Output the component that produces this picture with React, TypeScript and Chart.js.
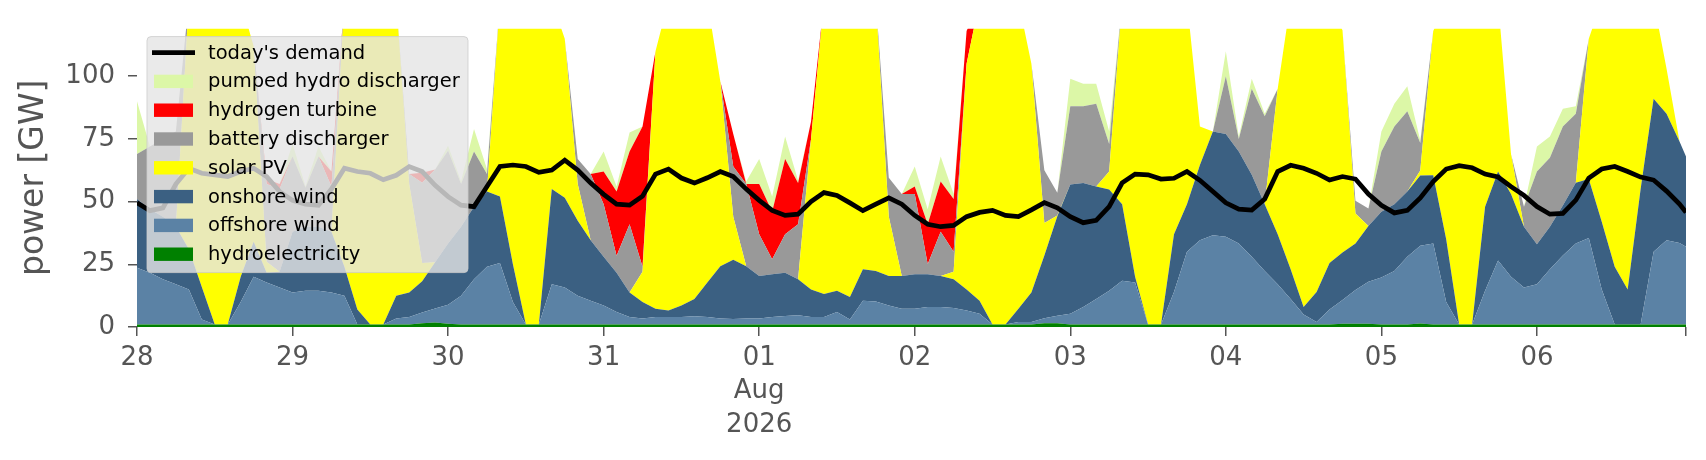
import React, { useEffect, useRef } from 'react'
import Chart from 'chart.js/auto'

// hours since 28 Jul 00:00, one reading every 2 h, last one at 23:00 on 6 Aug
const hours = Array.from({ length: 120 }, (_, i) => i * 2).concat(239)
const endHour = 239

const dayTickHours = [0, 24, 48, 72, 96, 120, 144, 168, 192, 216]
const dayTickLabels: (string | string[])[] = ['28', '29', '30', '31', ['01', 'Aug', '2026'], '02', '03', '04', '05', '06']
const yTicks = [0, 25, 50, 75, 100]

// GW (one row = one day)
const hydro = [
  1, 1, 1, 1, 1, 1, 1, 1, 1, 1, 1, 1,
  1, 1, 1, 1, 1, 1, 1, 1, 1, 1, 1.5, 1.8,
  1.3, 1, 1, 1, 1, 1, 1, 1, 1, 1, 1, 1,
  1, 1, 1, 1, 1, 1, 1, 1, 1, 1, 1, 1,
  1, 1, 1, 1, 1, 1, 1, 1, 1, 1, 1, 1,
  1, 1, 1, 1, 1, 1, 1, 1, 1, 1, 1.5, 1.5,
  1, 1, 1, 1, 1, 1, 1, 1, 1, 1, 1, 1,
  1, 1, 1, 1, 1, 1, 1, 1, 1, 1.3, 1.3, 1.3,
  1, 1, 1, 1.4, 1, 1, 1, 1, 1, 1, 1, 1,
  1, 1, 1, 1, 1, 1, 1, 1, 1, 1, 1, 1, 1,
]
const offshore = [
  22.6, 20.6, 18, 16, 14, 2, 0, 0, 9, 19, 16.7, 14.8,
  12.8, 13.5, 13.5, 12.8, 11.5, 0, 0, 0, 2.4, 3, 4.3, 5.6,
  7.6, 11.5, 18, 23, 24.5, 9, 0, 0, 16, 14.8, 11.5, 9.5,
  7.6, 5, 3, 2.4, 3, 3, 3, 3.3, 3, 2.4, 2.2, 2.4,
  2.4, 3, 3.4, 3.7, 3, 3, 5, 2, 9.5, 9.2, 7.6, 6.3,
  6.3, 7, 7, 6.6, 5.6, 4.3, 0, 0, 1, 1, 2, 3,
  4.3, 7, 10.2, 13.5, 17.4, 16.7, 0, 0, 13, 29, 33.6, 35.6,
  35, 32.3, 27, 21.3, 16, 10.2, 4, 1, 6, 9.5, 13.5, 16.7,
  18.7, 21.3, 27, 31, 32.3, 9, 0, 0, 13.5, 25.5, 19, 14.8,
  16, 22, 27.5, 32.3, 34.5, 14, 0, 0, 0, 29, 33.6, 32.5, 31,
]
const onshore = [
  27.4, 25.4, 25, 23, 16, 13, 0, 0, 10, 14, 3.9, 6.2,
  24.2, 25.5, 25.5, 24.2, 11.5, 6, 0, 0, 9.1, 9.8, 12.4, 18.4,
  24.4, 27.5, 29, 30, 26.5, 15, 0, 0, 38, 35.7, 29.9, 24.1,
  19.4, 15.6, 9.8, 6.6, 3.3, 2.6, 4.6, 6.9, 13.7, 20.8, 23.6, 20.8,
  16.9, 17, 17.2, 14.3, 11, 9.2, 8.5, 9, 12.5, 12.1, 11.7, 13,
  13.7, 13, 12.3, 11.4, 8.4, 5.2, 0, 0, 5.3, 11.8, 25, 39.7,
  51.5, 49.4, 44.8, 40.3, 30.6, 2.3, 0, 0, 23, 19, 30, 41.4,
  41, 36.7, 32.7, 26.7, 20, 11.8, 3, 12, 18.5, 18.9, 18.5, 22.3,
  26.3, 26.7, 26, 28, 27.2, 25, 0, 0, 33.5, 35.5, 33, 24.2,
  16, 17, 20, 24.2, 23.5, 27, 23, 14, 54, 61, 50.4, 40.5, 36,
]
const solar = [
  0, 0, 0, 0, 99, 114, 129, 129, 110, 78, 4.4, 0,
  0, 0, 0, 0, 106, 123, 129, 129, 117.5, 43.2, 7.3, 0,
  0, 0, 0, 0, 78, 105, 129, 129, 75, 63.5, 14.6, 0,
  0, 0, 0, 12, 102.7, 123.4, 121.4, 118.8, 112.3, 73.8, 17.2, 0,
  0, 0, 0, 0, 60, 116.8, 115.5, 118, 107, 107.7, 23.7, 0,
  0, 0, 0, 3, 90, 119.5, 129, 129, 122.7, 91.2, 13, 0.3,
  0, 0, 0, 7.2, 81, 110, 129, 129, 93, 81, 15.4, 0,
  0, 0, 0, 0, 58, 107, 122, 116, 104.5, 88.6, 12, 0,
  0, 0, 0, 2, 57.5, 95, 129, 129, 82, 68, 16, 0,
  0, 0, 0, 0, 56, 88, 106, 115, 75, 39, 18, 0, 0,
]
const battery = [
  18, 25, 31, 38, 0, 0, 0, 0, 0, 0, 31, 33,
  30, 15.5, 28, 18, 0, 0, 0, 0, 0, 4, 32, 37,
  37, 17, 22, 7, 0, 0, 0, 0, 0, 0, 10, 26.4,
  21, 6.8, 27.2, 2, 0, 0, 0, 0, 0, 0, 20, 32.8,
  16.7, 6, 15.4, 22, 0, 0, 0, 0, 0, 0, 15.5, 32.7,
  32, 4, 17.7, 8, 0, 0, 0, 0, 0, 0, 21, 9,
  31.2, 30.6, 33, 11, 0, 0, 0, 0, 0, 0, 0, 0,
  23, 5, 34.3, 35, 0, 0, 0, 0, 0, 0, 5, 7,
  24, 31, 32, 11, 0, 0, 0, 0, 0, 0, 0, 8,
  29, 27.5, 31.5, 27.5, 0, 0, 0, 0, 0, 0, 0, 0, 0,
]
const hydrogen = [
  0, 0, 0, 0, 0, 0, 0, 0, 0, 0, 2, 2,
  0, 0, 0, 6, 0, 0, 0, 0, 0, 0, 4, 0,
  0, 0, 0, 0, 0, 0, 0, 0, 0, 0, 0, 0,
  13, 25.6, 29, 56, 0, 0, 0, 0, 0, 0, 13, 0,
  20, 19, 30, 16.4, 7, 0, 0, 0, 0, 0, 0, 0,
  3, 16, 20, 21, 13, 0, 0, 0, 0, 0, 0, 0,
  0, 0, 0, 0, 0, 0, 0, 0, 0, 0, 0, 0,
  0, 0, 0, 0, 0, 0, 0, 0, 0, 0, 0, 0,
  0, 0, 0, 0, 0, 0, 0, 0, 0, 0, 0, 0,
  0, 0, 0, 0, 0, 0, 0, 0, 0, 0, 0, 0, 0,
]
const pumpedHydro = [
  21, 0, 0, 0, 0, 0, 0, 0, 0, 0, 0, 0,
  5, 0.5, 4, 0, 0, 0, 0, 0, 0, 0, 0, 0,
  2, 1, 9, 2, 0, 0, 0, 0, 0, 0, 0, 0,
  8, 2, 7.6, 0, 0, 0, 0, 0, 0, 0, 0, 1,
  10, 6, 9, 1, 0, 0, 0, 0, 0, 0, 0, 0,
  8, 6, 10, 2, 0, 0, 0, 0, 0, 0, 0, 0,
  11, 9, 8, 5, 0, 0, 0, 0, 0, 0, 0, 0,
  10, 1, 4, 1, 0, 0, 0, 0, 0, 0, 0, 0,
  8, 9, 10, 1, 0, 0, 0, 0, 0, 0, 0, 0,
  10, 8.5, 7, 3, 0, 0, 0, 0, 0, 0, 0, 0, 0,
]
const demand = [
  49.6, 46.4, 47.5, 57, 63.3, 61.3, 60.7, 60, 62, 63.3, 60, 54,
  50.5, 49, 48.5, 55, 63.3, 62, 61.3, 58.7, 60.5, 64, 62, 56.5,
  52, 48.6, 48, 56, 64, 64.6, 64, 61.7, 62.6, 66.5, 62.6, 57.4,
  52.9, 49, 48.6, 52.2, 61, 63, 59.4, 57.4, 59.5, 62, 60, 55,
  50.5, 46.5, 44.5, 45, 50, 53.6, 52.5, 49.5, 46.4, 49, 51.5, 49,
  44.5, 41, 40, 40.5, 44, 45.7, 46.5, 44.5, 44, 46.7, 49.6, 47.5,
  44, 41.6, 42.5, 48, 57.5, 61, 60.7, 59, 59.3, 62, 58.5, 54,
  49.5, 47, 46.6, 51, 62, 64.5, 63.3, 61.3, 58.6, 60, 59, 53,
  48.5, 45.5, 46.5, 51.5, 58, 63, 64.3, 63.5, 61, 59.8, 56, 52.5,
  48, 45, 45.3, 50.6, 59.4, 63, 64, 62, 59.8, 58.6, 54.2, 49, 45.7,
]

// bottom to top
const areaSeries = [
  { label: 'hydroelectricity', values: hydro, color: '#008000' },
  { label: 'offshore wind', values: offshore, color: '#5b82a5' },
  { label: 'onshore wind', values: onshore, color: '#3b6082' },
  { label: 'solar PV', values: solar, color: '#ffff00' },
  { label: 'battery discharger', values: battery, color: '#999999' },
  { label: 'hydrogen turbine', values: hydrogen, color: '#ff0000' },
  { label: 'pumped hydro discharger', values: pumpedHydro, color: '#dcf7a7' },
]

const FONT = '"DejaVu Sans", "Noto Sans", sans-serif'
const TEXT = '#555555'

const toPoints = (values: number[]) => hours.map((h, i) => ({ x: h, y: values[i] }))

// matplotlib-like legend drawn over the plot with a translucent box
const overlayLegend = {
  id: 'overlayLegend',
  afterDraw(chart: any) {
    const { ctx, chartArea } = chart
    const x = chartArea.left + 10
    const y = chartArea.top + 8
    const w = 321
    const h = 236
    const rowH = 28.8
    ctx.save()
    ctx.beginPath()
    ctx.roundRect(x, y, w, h, 4)
    ctx.fillStyle = 'rgba(229,229,229,0.8)'
    ctx.fill()
    ctx.strokeStyle = 'rgba(204,204,204,0.8)'
    ctx.lineWidth = 1
    ctx.stroke()

    const items = [
      { label: "today's demand", color: '#000000', line: true },
      ...areaSeries.slice().reverse().map(s => ({ label: s.label, color: s.color, line: false })),
    ]
    ctx.font = `19.5px ${FONT}`
    ctx.textBaseline = 'middle'
    ctx.textAlign = 'left'
    items.forEach((it, i) => {
      const cy = y + 16 + i * rowH
      if (it.line) {
        ctx.strokeStyle = it.color
        ctx.lineWidth = 4.7
        ctx.beginPath()
        ctx.moveTo(x + 5, cy)
        ctx.lineTo(x + 48, cy)
        ctx.stroke()
      } else {
        ctx.fillStyle = it.color
        ctx.fillRect(x + 7, cy - 6.7, 39, 13.4)
      }
      ctx.fillStyle = '#000000'
      ctx.fillText(it.label, x + 61, cy + 1)
    })
    ctx.restore()
  },
}

export default function App() {
  const canvasRef = useRef<HTMLCanvasElement>(null)
  const chartRef = useRef<Chart | null>(null)

  useEffect(() => {
    document.body.style.margin = '0'
    if (!canvasRef.current) return
    if (chartRef.current) chartRef.current.destroy()

    const datasets: any[] = [
      {
        label: "today's demand",
        data: toPoints(demand),
        borderColor: '#000000',
        borderWidth: 4.7,
        fill: false,
        stack: 'demand',
        order: 0,
        pointRadius: 0,
      },
      ...areaSeries.map((s, i) => ({
        label: s.label,
        data: toPoints(s.values),
        backgroundColor: s.color,
        borderColor: s.color,
        borderWidth: 0,
        fill: i === 0 ? 'origin' : '-1',
        stack: 'generation',
        order: 1,
        pointRadius: 0,
      })),
    ]

    chartRef.current = new Chart(canvasRef.current, {
      type: 'line',
      data: { datasets },
      options: {
        animation: false,
        responsive: true,
        maintainAspectRatio: false,
        layout: { padding: { top: 22, right: 20, bottom: 0, left: 0 } },
        elements: { line: { tension: 0 }, point: { radius: 0 } },
        plugins: {
          legend: { display: false },
          tooltip: { enabled: false },
        },
        scales: {
          x: {
            type: 'linear',
            min: 0,
            max: endHour,
            border: { display: false },
            grid: { drawOnChartArea: false, drawTicks: true, tickLength: 9, color: TEXT, lineWidth: 1.5 },
            afterBuildTicks: (scale: any) => {
              scale.ticks = [...dayTickHours, endHour].map(v => ({ value: v }))
            },
            afterFit: (scale: any) => {
              scale.height = 133
            },
            ticks: {
              autoSkip: false,
              maxRotation: 0,
              padding: 5,
              color: TEXT,
              font: { family: FONT, size: 26, lineHeight: 1.3 },
              callback: (value: any) => {
                const idx = dayTickHours.indexOf(Number(value))
                return idx >= 0 ? dayTickLabels[idx] : ''
              },
            },
          },
          y: {
            stacked: true,
            min: 0,
            max: 119,
            border: { display: false },
            grid: { drawOnChartArea: false, drawTicks: true, tickLength: 9, color: TEXT, lineWidth: 1.5 },
            afterBuildTicks: (scale: any) => {
              scale.ticks = yTicks.map(v => ({ value: v }))
            },
            afterFit: (scale: any) => {
              scale.width = 137
            },
            ticks: {
              padding: 13,
              color: TEXT,
              font: { family: FONT, size: 26 },
            },
            title: {
              display: true,
              text: 'power [GW]',
              color: TEXT,
              padding: { top: 15, bottom: 0 },
              font: { family: FONT, size: 33 },
            },
          },
        },
      },
      plugins: [overlayLegend],
    })

    return () => {
      if (chartRef.current) chartRef.current.destroy()
      chartRef.current = null
    }
  }, [])

  return (
    <div style={{ width: '1706px', height: '460px', position: 'relative', background: '#ffffff' }}>
      <canvas ref={canvasRef}></canvas>
    </div>
  )
}
